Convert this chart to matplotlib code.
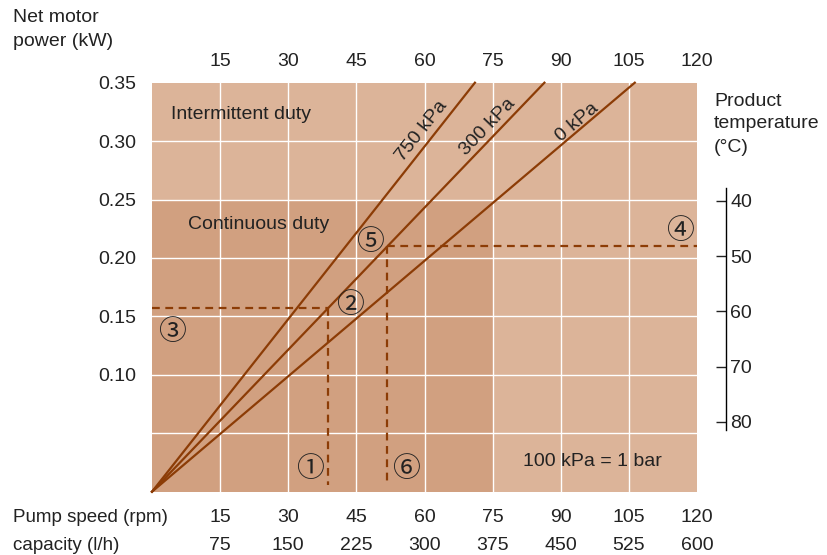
import matplotlib
matplotlib.use("Agg")
import matplotlib.pyplot as plt

plt.rcParams["font.family"] = ["Liberation Sans", "DejaVu Sans"]
plt.rcParams["font.size"] = 14

# ------------------------------------------------------------
# data
# ------------------------------------------------------------
speed_ticks = [15, 30, 45, 60, 75, 90, 105, 120]          # rpm
capacity_ticks = [75, 150, 225, 300, 375, 450, 525, 600]  # l/h
power_ticks = [0.10, 0.15, 0.20, 0.25, 0.30, 0.35]        # kW
power_grid = [0.05, 0.10, 0.15, 0.20, 0.25, 0.30]
temp_ticks = [40, 50, 60, 70, 80]                          # degC

# pressure lines: start at origin, speed where they reach 0.35 kW
pressure_labels = ["750 kPa", "300 kPa", "0 kPa"]
pressure_end_speed = [71.1, 86.4, 106.3]
pressure_label_pos = [(59.4, 0.3086), (74.0, 0.312), (93.6, 0.316)]
pressure_label_rot = [51.7, 46.2, 40.3]

# example readings (dashed)
ex1_speed, ex1_power = 38.75, 0.1575
ex2_speed, ex2_power = 51.8, 0.2105

# circled markers
marker_text = ["①", "②", "③", "④", "⑤", "⑥"]
marker_pos = [(34.8, 0.0194), (43.6, 0.160), (4.4, 0.1366),
              (116.2, 0.223), (48.0, 0.2136), (55.9, 0.0194)]

continuous_speed = 75
continuous_power = 0.25

LIGHT = "#dcb499"
DARK = "#d1a080"
LINE = "#8c3c06"
TXT = "#222222"

W, H = 827, 555
fig = plt.figure(figsize=(W / 100, H / 100), dpi=100)

x0, x1, y0, y1 = 152, 697, 82.7, 491.7
ax = fig.add_axes([x0 / W, 1 - y1 / H, (x1 - x0) / W, (y1 - y0) / H])
ax.set_xlim(0, 120)
ax.set_ylim(0, 0.35)
ax.set_facecolor(LIGHT)
ax.axvspan(0, continuous_speed, 0, continuous_power / 0.35, color=DARK, lw=0, zorder=0)

for s in ax.spines.values():
    s.set_visible(False)

# grid
for xv in speed_ticks[:-1]:
    ax.axvline(xv, color="white", lw=1.0, zorder=1)
for yv in power_grid:
    ax.axhline(yv, color="white", lw=1.0, zorder=1)

# pressure lines
for lab, xe, pos, rot in zip(pressure_labels, pressure_end_speed,
                             pressure_label_pos, pressure_label_rot):
    ax.plot([0, xe], [0, 0.35], color=LINE, lw=1.6, zorder=3, clip_on=False)
    ax.text(pos[0], pos[1], lab, rotation=rot, ha="center", va="center",
            color=TXT, fontsize=14, rotation_mode="anchor")

# dashed readings
dash = dict(color=LINE, lw=1.6, ls=(0, (3.5, 2.5)), zorder=3)
ax.plot([0, ex1_speed], [ex1_power, ex1_power], **dash)
ax.plot([ex1_speed, ex1_speed], [ex1_power, 0.006], **dash)
ax.plot([ex2_speed, 120], [ex2_power, ex2_power], **dash)
ax.plot([ex2_speed, ex2_speed], [ex2_power, 0.006], **dash)

for t, (mx, my) in zip(marker_text, marker_pos):
    ax.text(mx, my, t, ha="center", va="center", fontsize=20, color=TXT,
            family=["Noto Sans CJK JP", "DejaVu Sans"], zorder=4)

ax.text(4.2, 0.323, "Intermittent duty", ha="left", va="center", color=TXT)
ax.text(7.9, 0.2285, "Continuous duty", ha="left", va="center", color=TXT)
ax.text(97.0, 0.0256, "100 kPa = 1 bar", ha="center", va="center", color=TXT)

# left and top tick labels
ax.set_yticks(power_ticks)
ax.set_yticklabels([f"{v:.2f}" for v in power_ticks])
ax.set_xticks(speed_ticks)
ax.xaxis.tick_top()
ax.set_xticklabels([str(v) for v in speed_ticks])
ax.tick_params(axis="both", length=0, labelsize=14, colors=TXT)
ax.tick_params(axis="y", pad=11)
ax.tick_params(axis="x", pad=9)

# bottom two rows
trans = ax.get_xaxis_transform()
for sp, cap in zip(speed_ticks, capacity_ticks):
    ax.text(sp, -(518 - y1) / (y1 - y0), str(sp), transform=trans,
            ha="center", va="center", color=TXT)
    ax.text(sp, -(545 - y1) / (y1 - y0), str(cap), transform=trans,
            ha="center", va="center", color=TXT)
fig.text(13 / W, 1 - 518 / H, "Pump speed (rpm)", ha="left", va="center",
         color=TXT, fontsize=13.5)
fig.text(13 / W, 1 - 545 / H, "capacity (l/h)", ha="left", va="center",
         color=TXT, fontsize=13.5)

fig.text(13 / W, 1 - 18 / H, "Net motor", ha="left", va="center", color=TXT)
fig.text(13 / W, 1 - 41 / H, "power (kW)", ha="left", va="center", color=TXT)
for i, line in enumerate(["Product", "temperature", "(°C)"]):
    fig.text(714 / W, 1 - (101 + 23 * i) / H, line, ha="left", va="center", color=TXT)

# product temperature scale
t0, t1 = 188, 430
tax = fig.add_axes([726 / W - 0.0005, 1 - t1 / H, 0.0005, (t1 - t0) / H])
tax.set_ylim(81.45, 37.7)
tax.set_xticks([])
for k in ["top", "bottom", "left"]:
    tax.spines[k].set_visible(False)
tax.spines["right"].set_linewidth(1.0)
tax.yaxis.tick_right()
tax.set_yticks(temp_ticks)
tax.tick_params(axis="y", direction="in", length=7, width=1.0, pad=3,
                labelsize=14, colors=TXT)
tax.patch.set_visible(False)

fig.savefig("out.png", dpi=100)
